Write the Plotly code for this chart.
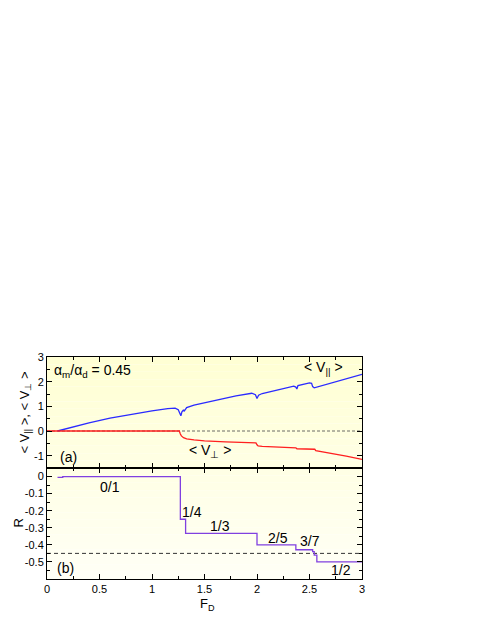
import plotly.graph_objects as go
from plotly.subplots import make_subplots

# ---- data ----
F_par = [0.10, 0.2, 0.4, 0.6, 0.8, 1.0, 1.15, 1.22, 1.25, 1.265, 1.275, 1.285, 1.30, 1.305, 1.315, 1.33,
         1.4, 1.6, 1.8, 1.95, 1.985, 2.0, 2.015, 2.05, 2.2, 2.35, 2.37, 2.38, 2.39, 2.45, 2.5, 2.52,
         2.53, 2.545, 2.57, 2.7, 2.85, 3.0]
V_par = [0.00, 0.12, 0.33, 0.52, 0.68, 0.82, 0.91, 0.93, 0.86, 0.72, 0.62, 0.78, 0.86, 0.80, 0.86, 0.95,
         1.05, 1.25, 1.42, 1.53, 1.47, 1.32, 1.45, 1.52, 1.68, 1.82, 1.78, 1.70, 1.84, 1.90, 1.95, 1.93,
         1.80, 1.75, 1.78, 1.95, 2.12, 2.30]

F_perp = [0.0, 1.26, 1.27, 1.28, 1.30, 1.33, 1.4, 1.5, 1.7, 1.9, 1.99, 2.0, 2.01, 2.05, 2.2, 2.36,
          2.37, 2.38, 2.5, 2.54, 2.55, 2.56, 2.7, 2.85, 3.0]
V_perp = [0.0, 0.0, -0.12, -0.2, -0.27, -0.32, -0.36, -0.40, -0.44, -0.47, -0.48, -0.56, -0.60, -0.62,
          -0.66, -0.70, -0.68, -0.72, -0.74, -0.76, -0.74, -0.80, -0.90, -1.02, -1.15]

F_R = [0.10, 0.15, 1.27, 1.32, 2.0, 2.37, 2.53, 2.545, 2.57, 3.0]
R_vals = [-0.005, 0.0, -0.25, -0.3333, -0.4, -0.4286, -0.44, -0.46, -0.5, -0.5]

step_labels = ["0/1", "1/4", "1/3", "2/5", "3/7", "1/2"]
step_label_x = [0.6, 1.38, 1.65, 2.2, 2.5, 2.8]
step_label_y = [-0.06, -0.21, -0.29, -0.36, -0.375, -0.55]

x_tickvals = [0, 0.5, 1, 1.5, 2, 2.5, 3]
x_ticktext = ["0", "0.5", "1", "1.5", "2", "2.5", "3"]
v_tickvals = [-1, 0, 1, 2, 3]
v_ticktext = ["-1", "0", "1", "2", "3"]
r_tickvals = [0, -0.1, -0.2, -0.3, -0.4, -0.5]
r_ticktext = ["0", "-0.1", "-0.2", "-0.3", "-0.4", "-0.5"]

ratio_text = "α<sub>m</sub>/α<sub>d</sub> = 0.45"
R_ref = -0.45

fig = make_subplots(rows=2, cols=1, shared_xaxes=True, vertical_spacing=0)

# background gradient (light yellow)
n = 30
for i in range(n):
    t = i / (n - 1)
    b = int(212 + (246 - 212) * t)
    fig.add_shape(type="rect", xref="paper", yref="paper", x0=0, x1=1,
                  y0=1 - (i + 1) / n, y1=1 - i / n, fillcolor=f"rgb(255,255,{b})",
                  line_width=0, layer="below")

fig.add_trace(go.Scatter(x=[0, 3], y=[0, 0], mode="lines",
                         line=dict(color="#444444", width=0.8, dash="3px,2px"),
                         showlegend=False), row=1, col=1)
fig.add_trace(go.Scatter(x=F_par, y=V_par, mode="lines", line=dict(color="#2b2bff", width=1.3),
                         showlegend=False), row=1, col=1)
fig.add_trace(go.Scatter(x=F_perp, y=V_perp, mode="lines", line=dict(color="#ff2020", width=1.3),
                         showlegend=False), row=1, col=1)
fig.add_trace(go.Scatter(x=[0, 3], y=[R_ref, R_ref], mode="lines",
                         line=dict(color="#333333", width=1, dash="4px,3px"), showlegend=False), row=2, col=1)
fig.add_trace(go.Scatter(x=F_R, y=R_vals, mode="lines", line=dict(color="#8040e0", width=1.3, shape="hv"),
                         showlegend=False), row=2, col=1)

font = dict(family="Liberation Sans, Arial, sans-serif", color="black")
common = dict(showline=True, linecolor="black", linewidth=1, mirror="ticks", ticks="inside",
              ticklen=5, tickcolor="black", showgrid=False, zeroline=False, automargin=False,
              tickfont=dict(size=11, **font))

fig.update_xaxes(range=[0, 3], tickvals=x_tickvals, ticktext=x_ticktext,
                 minor=dict(dtick=0.25, ticks="inside", ticklen=3, tickcolor="black"), **common)
fig.update_xaxes(showticklabels=False, row=1, col=1)

fig.update_yaxes(range=[-1.5, 3], tickvals=v_tickvals, ticktext=v_ticktext,
                 minor=dict(dtick=0.5, ticks="inside", ticklen=3, tickcolor="black"),
                 row=1, col=1, **common)
fig.update_yaxes(range=[-0.6, 0.05], tickvals=r_tickvals, ticktext=r_ticktext,
                 minor=dict(dtick=0.05, ticks="inside", ticklen=3, tickcolor="black"),
                 row=2, col=1, **common)

ann = []
# axis titles
ann.append(dict(x=0, y=0.75, xref="paper", yref="paper", text="< V<sub>||</sub> >, < V<sub>⊥</sub> >",
                textangle=-90, showarrow=False, xanchor="center", yanchor="middle", xshift=-22,
                font=dict(size=13, **font)))
ann.append(dict(x=0, y=0.25, xref="paper", yref="paper", text="R",
                textangle=-90, showarrow=False, xanchor="center", yanchor="middle", xshift=-29,
                font=dict(size=13, **font)))
ann.append(dict(x=0.5, y=0, xref="paper", yref="paper", text="F<sub>D</sub>",
                showarrow=False, xanchor="center", yanchor="top", yshift=-15, xshift=3,
                font=dict(size=13, **font)))
ann.append(dict(x=0.05, y=2.45, xref="x", yref="y", text=ratio_text, showarrow=False, xanchor="left",
                font=dict(size=14, **font)))
ann.append(dict(x=2.63, y=2.55, xref="x", yref="y", text="< V<sub>||</sub> >", showarrow=False,
                font=dict(size=14, **font)))
ann.append(dict(x=1.55, y=-0.8, xref="x", yref="y", text="< V<sub>⊥</sub> >", showarrow=False,
                font=dict(size=14, **font)))
ann.append(dict(x=0.1, y=-1.05, xref="x", yref="y", text="(a)", showarrow=False, xanchor="left",
                font=dict(size=14, **font)))
ann.append(dict(x=0.08, y=-0.535, xref="x2", yref="y2", text="(b)", showarrow=False, xanchor="left",
                font=dict(size=14, **font)))
for t, xx, yy in zip(step_labels, step_label_x, step_label_y):
    ann.append(dict(x=xx, y=yy, xref="x2", yref="y2", text=t, showarrow=False, font=dict(size=14, **font)))

# the page body adds an 8px offset; margins compensate so the plot lands where the reference has it
fig.update_layout(width=485, height=627, margin=dict(l=39, r=131, t=349, b=56),
                  paper_bgcolor="white", plot_bgcolor="rgba(0,0,0,0)", annotations=ann,
                  font=font)

fig.write_html("out.html")
